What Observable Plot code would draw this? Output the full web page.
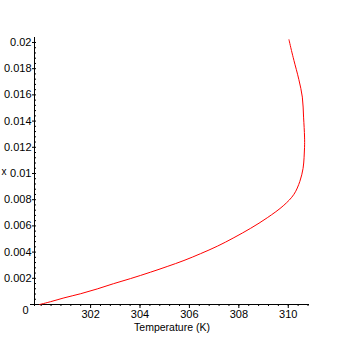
<!DOCTYPE html>
<html><head><meta charset="utf-8">
<script src="https://cdn.jsdelivr.net/npm/d3@7"></script>
<script src="https://cdn.jsdelivr.net/npm/@observablehq/plot@0.6"></script>
<style>html,body{margin:0;padding:0;background:#fff} svg{display:block}</style>
</head><body><div id="chart"></div>
<script>
// Curve: temperature (K) vs mole fraction x
const temperature = [299.94, 300.38, 300.92, 301.60, 302.27, 302.93, 303.62, 304.43, 305.10, 305.78, 306.45, 307.13, 307.80, 308.48, 309.15, 309.82, 310.23, 310.47, 310.60, 310.64, 310.66, 310.66, 310.62, 310.57, 310.43, 310.23, 310.13, 310.03];
const moleFraction = [0, 0.000214, 0.000503, 0.000824, 0.00119, 0.00159, 0.00198, 0.00247, 0.00290, 0.00336, 0.00388, 0.00445, 0.00510, 0.00582, 0.00662, 0.00757, 0.00841, 0.00940, 0.01039, 0.01120, 0.01200, 0.01278, 0.01430, 0.01583, 0.01716, 0.01863, 0.01939, 0.02021];

// Axes
const xDomain = [299.73, 310.86];
const yDomain = [0, 0.02038];
const xMajor = [302, 304, 306, 308, 310];
const xMinor = d3.range(0, 28).map(i => +(300 + i * 0.4).toFixed(1));
const yMajor = [0.002, 0.004, 0.006, 0.008, 0.01, 0.012, 0.014, 0.016, 0.018, 0.02];
const yMinor = d3.range(0, 51).map(i => +(i * 0.0004).toFixed(4));
const xLabel = "Temperature (K)";
const yLabel = "x";

const data = temperature.map((t, i) => ({T: t, x: moleFraction[i]}));

const chart = Plot.plot({
  width: 344, height: 344,
  marginLeft: 34, marginRight: 35, marginTop: 37, marginBottom: 40,
  style: {fontFamily: "'Liberation Sans', Arial, sans-serif", fontSize: "11px", background: "white", color: "black"},
  x: {domain: xDomain},
  y: {domain: yDomain},
  marks: [
    Plot.axisX({ticks: xMinor, tickSize: 2, tickFormat: () => "", label: null}),
    Plot.axisX({ticks: xMajor, tickSize: 4, tickPadding: 2, tickFormat: d => String(d), label: null}),
    Plot.axisY({ticks: yMinor, tickSize: -2, tickFormat: () => "", label: null}),
    Plot.axisY({ticks: yMajor, tickSize: 2, tickPadding: 1, tickFormat: d => String(d), label: null}),
    Plot.axisY({ticks: [0], tickSize: 0, tickPadding: 6, dy: 6, tickFormat: d => String(d), label: null}),
    Plot.ruleY([0], {stroke: "black", insetLeft: -4}),
    Plot.ruleX([xDomain[0]], {stroke: "black", insetBottom: -2}),
    Plot.line(data, {x: "T", y: "x", stroke: "red", strokeWidth: 1, curve: "catmull-rom"}),
    Plot.text([yLabel], {frameAnchor: "left", dx: -33, dy: 1, textAnchor: "start", fontSize: 10}),
    Plot.text([xLabel], {frameAnchor: "bottom", dy: 26, fontSize: 10.5})
  ]
});
document.getElementById("chart").appendChild(chart);
</script>
</body></html>
